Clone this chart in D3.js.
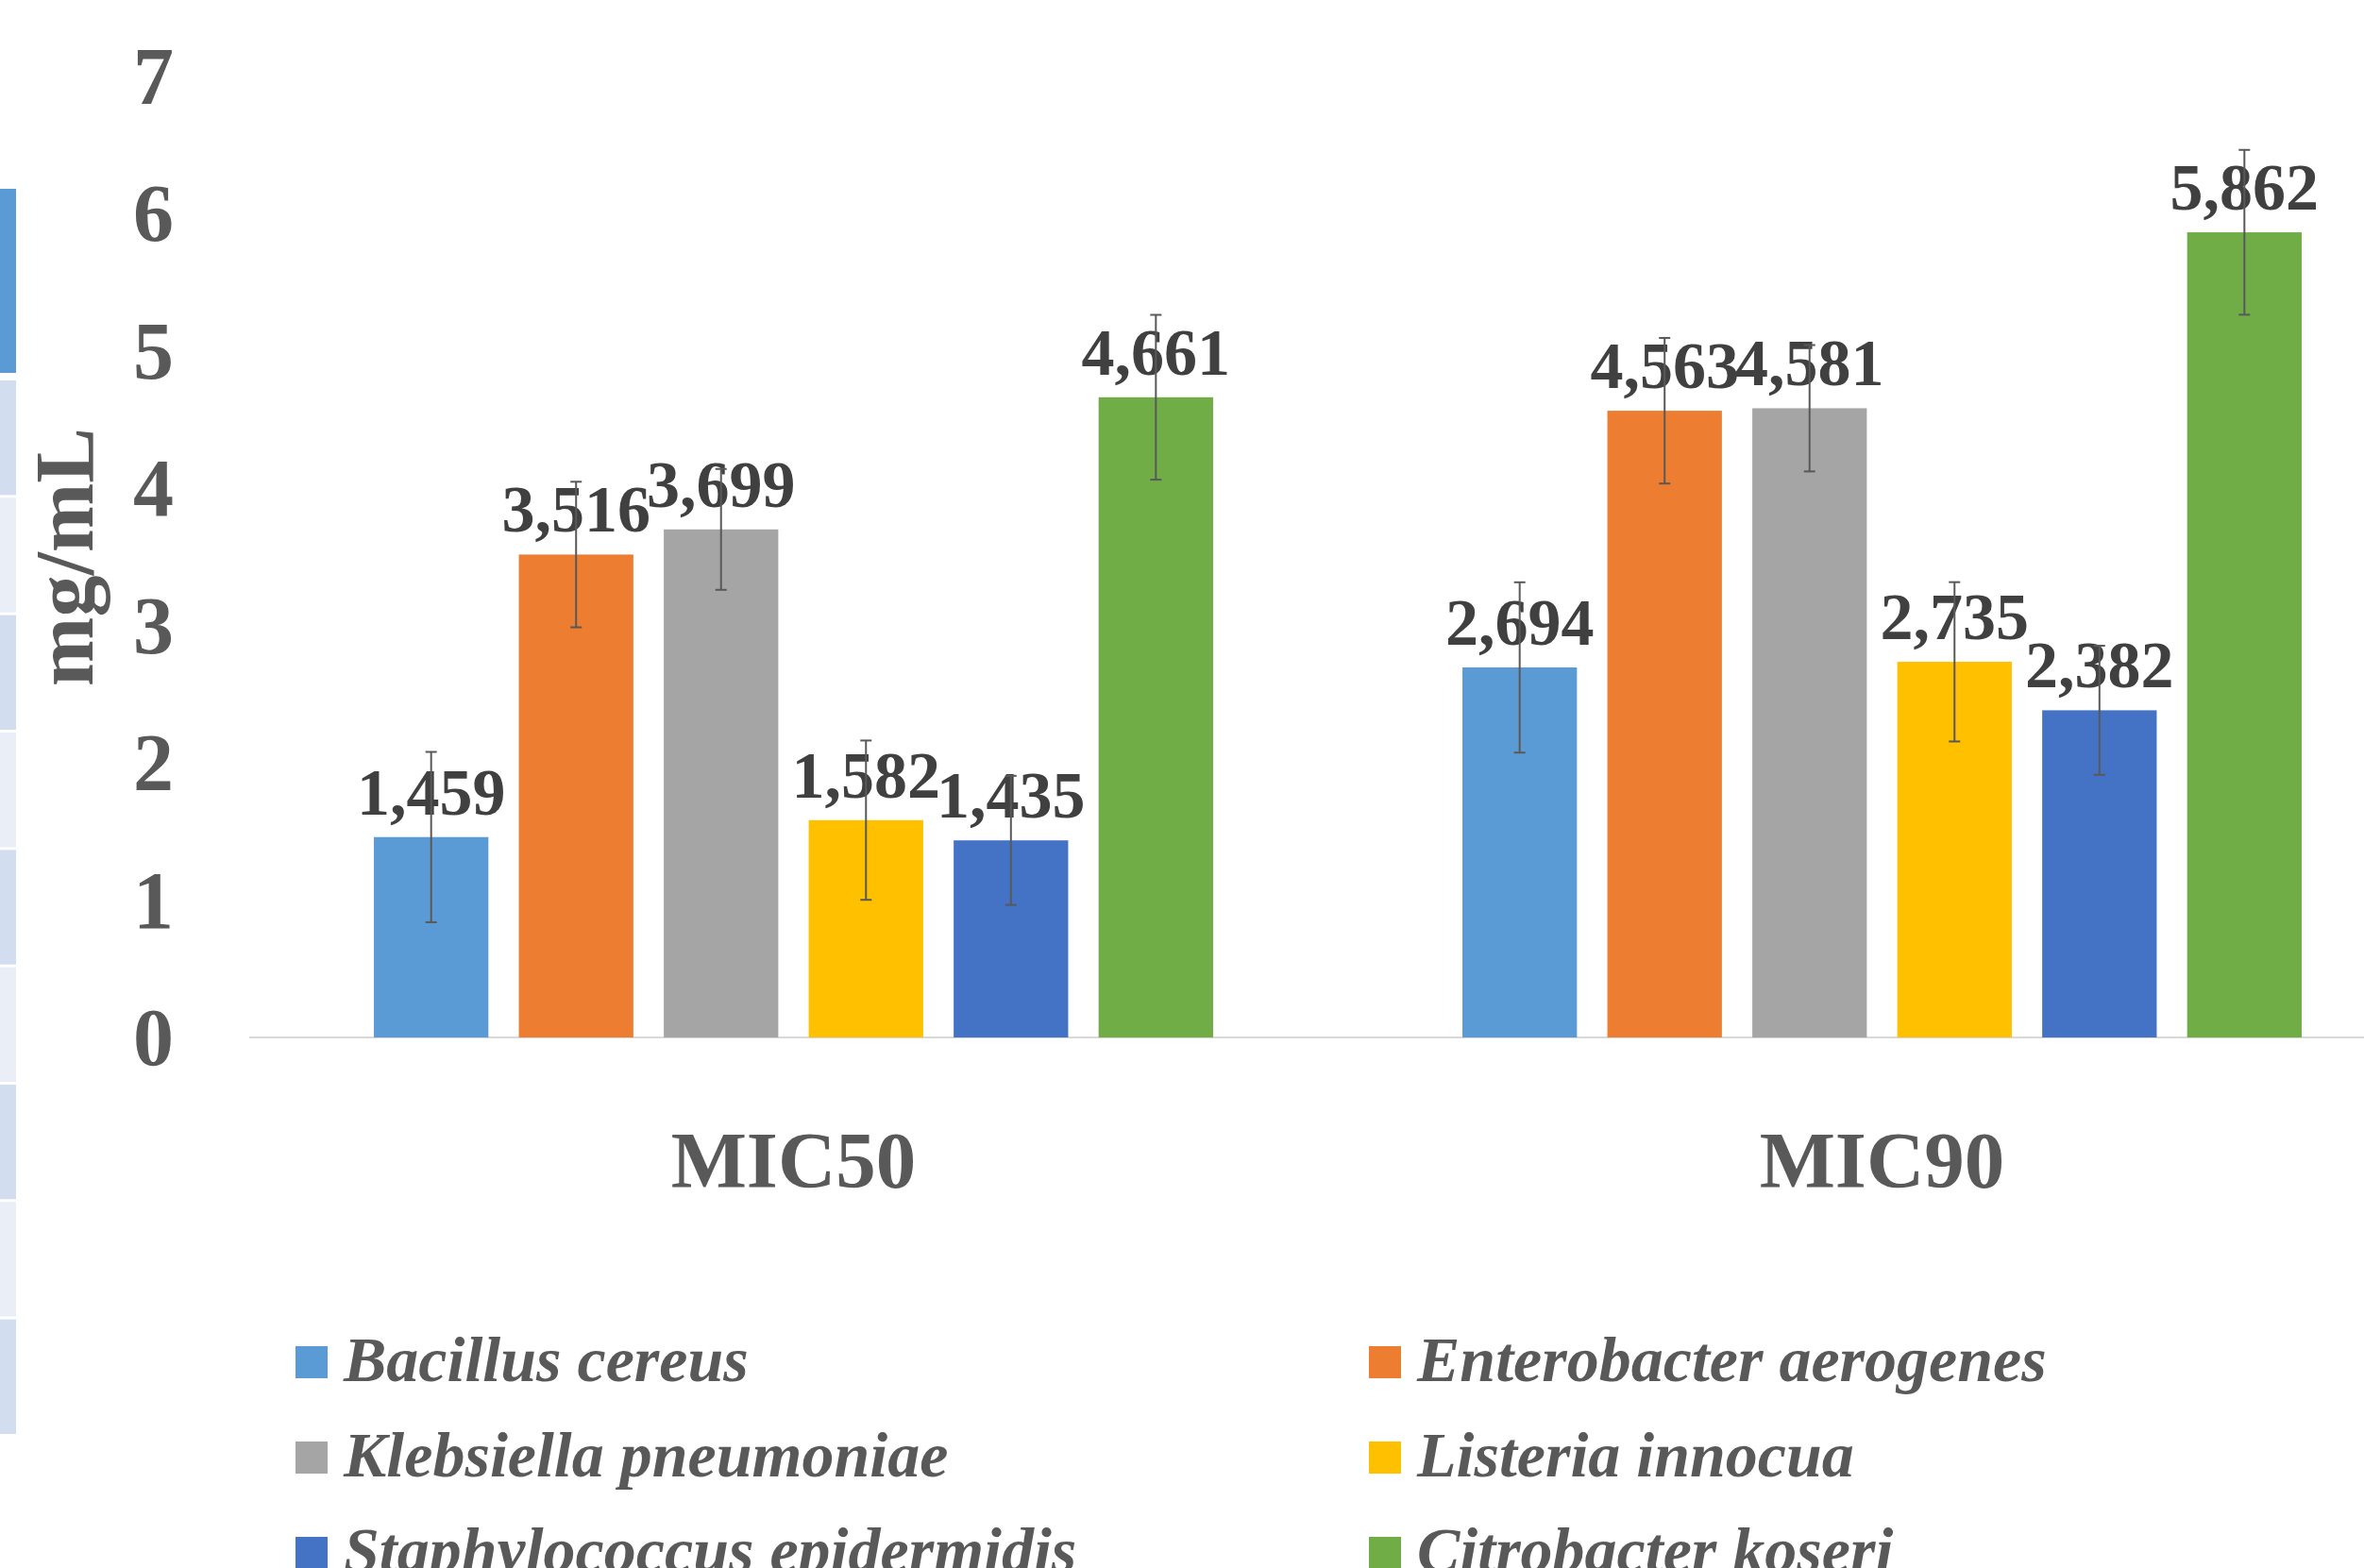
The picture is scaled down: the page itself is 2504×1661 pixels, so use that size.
<!DOCTYPE html>
<html>
<head>
<meta charset="utf-8">
<script src="https://cdn.jsdelivr.net/npm/d3@7"></script>
<style>
  body { margin: 0; background: #fff; }
  svg { display: block; }
  text { font-family: "Liberation Serif", "Times New Roman", serif; }
</style>
</head>
<body>
<svg id="chart"></svg>
<script>
// MIC50 / MIC90 per bacterium (mg/mL), with error bars

var categories = ["MIC50", "MIC90"];
var species = ["Bacillus cereus", "Enterobacter aerogenes", "Klebsiella pneumoniae",
               "Listeria innocua", "Staphylococcus epidermidis", "Citrobacter koseri"];
var colors = ["#5b9bd5", "#ed7d31", "#a5a5a5", "#ffc000", "#4472c4", "#70ad47"];

var mic50 = [1.459, 3.516, 3.699, 1.582, 1.435, 4.661];
var mic90 = [2.694, 4.563, 4.581, 2.735, 2.382, 5.862];
var err50 = [0.62, 0.53, 0.44, 0.58, 0.47, 0.60];
var err90 = [0.62, 0.53, 0.46, 0.58, 0.47, 0.60];
var yTicks = [0, 1, 2, 3, 4, 5, 6, 7];

// stripe along the left edge (part of the slide behind the chart)
var stripeColors = ["#d2deef", "#e9eef7", "#d2deef", "#e9eef7", "#d2deef",
                    "#e9eef7", "#d2deef", "#e9eef7", "#d2deef"];

var W = 2504, H = 1661;
var svg = d3.select("#chart").attr("width", W).attr("height", H);

var rows = [];
categories.forEach(function(c, ci) {
  var vals = ci === 0 ? mic50 : mic90;
  var errs = ci === 0 ? err50 : err90;
  species.forEach(function(s, si) {
    rows.push({cat: c, sp: s, i: si, v: vals[si], e: errs[si]});
  });
});

var x0 = d3.scaleBand().domain(categories).range([264, 264 + 2 * 1153]);
var x1 = d3.scaleBand().domain(species).range([0, x0.bandwidth()])
  .paddingInner(0.21).paddingOuter(0.86);
var y = d3.scaleLinear().domain([0, 7]).range([1099, 80.5]);

// left stripe: one blue block then alternating pale blocks
svg.append("rect")
  .attr("x", 0).attr("y", 200)
  .attr("width", 17).attr("height", 195)
  .attr("fill", "#5b9bd5");
var stripeY = d3.scaleLinear().domain([0, stripeColors.length]).range([403, 1522]);
svg.append("g").selectAll("rect")
  .data(stripeColors)
  .enter().append("rect")
    .attr("x", 0)
    .attr("y", function(d, i) { return stripeY(i); })
    .attr("width", 17)
    .attr("height", function(d, i) { return stripeY(i + 1) - stripeY(i) - 3; })
    .attr("fill", function(d) { return d; });

// y tick labels
svg.append("g").selectAll("text")
  .data(yTicks)
  .enter().append("text")
    .attr("x", 184)
    .attr("y", function(d) { return y(d) + 29; })
    .attr("text-anchor", "end")
    .attr("font-size", 86)
    .attr("font-weight", "bold")
    .attr("fill", "#595959")
    .text(function(d) { return d; });

// y title
svg.append("text")
  .attr("transform", "translate(98,590) rotate(-90)")
  .attr("text-anchor", "middle")
  .attr("font-size", 88)
  .attr("font-weight", "bold")
  .attr("fill", "#595959")
  .text("mg/mL");

// baseline
svg.append("line")
  .attr("x1", 264).attr("x2", W)
  .attr("y1", y(0)).attr("y2", y(0))
  .attr("stroke", "#d9d9d9")
  .attr("stroke-width", 2);

// bars
var bx = function(d) { return x0(d.cat) + x1(d.sp); };
svg.append("g").selectAll("rect")
  .data(rows)
  .enter().append("rect")
    .attr("x", bx)
    .attr("y", function(d) { return y(d.v); })
    .attr("width", x1.bandwidth())
    .attr("height", function(d) { return y(0) - y(d.v); })
    .attr("fill", function(d) { return colors[d.i]; });

// data labels
svg.append("g").selectAll("text")
  .data(rows)
  .enter().append("text")
    .attr("x", function(d) { return bx(d) + x1.bandwidth() / 2; })
    .attr("y", function(d) { return y(d.v) - 24; })
    .attr("text-anchor", "middle")
    .attr("font-size", 70)
    .attr("font-weight", "bold")
    .attr("fill", "#404040")
    .text(function(d) { return d.v.toFixed(3).replace(".", ","); });

// error bars
var eb = svg.append("g").attr("stroke", "#595959").attr("stroke-width", 2);
rows.forEach(function(d) {
  var cx = bx(d) + x1.bandwidth() / 2;
  eb.append("line").attr("x1", cx).attr("x2", cx)
    .attr("y1", y(d.v + d.e)).attr("y2", y(d.v - d.e));
  eb.append("line").attr("x1", cx - 6).attr("x2", cx + 6)
    .attr("y1", y(d.v + d.e)).attr("y2", y(d.v + d.e));
  eb.append("line").attr("x1", cx - 6).attr("x2", cx + 6)
    .attr("y1", y(d.v - d.e)).attr("y2", y(d.v - d.e));
});

// category labels
svg.append("g").selectAll("text")
  .data(categories)
  .enter().append("text")
    .attr("x", function(d) { return x0(d) + x0.bandwidth() / 2; })
    .attr("y", 1258)
    .attr("text-anchor", "middle")
    .attr("font-size", 85)
    .attr("font-weight", "bold")
    .attr("fill", "#595959")
    .text(function(d) { return d; });

// legend, 2 columns (last row runs off the bottom, as in the original)
var lg = svg.append("g").selectAll("g")
  .data(species)
  .enter().append("g")
    .attr("transform", function(d, i) {
      return "translate(" + (313 + (i % 2) * 1137) + "," + (1426 + Math.floor(i / 2) * 101) + ")";
    });
lg.append("rect")
  .attr("width", 34).attr("height", 34)
  .attr("fill", function(d, i) { return colors[i]; });
lg.append("text")
  .attr("x", 51)
  .attr("y", 37)
  .attr("font-size", 68)
  .attr("font-weight", "bold")
  .attr("font-style", "italic")
  .attr("fill", "#595959")
  .text(function(d) { return d; });
</script>
</body>
</html>
